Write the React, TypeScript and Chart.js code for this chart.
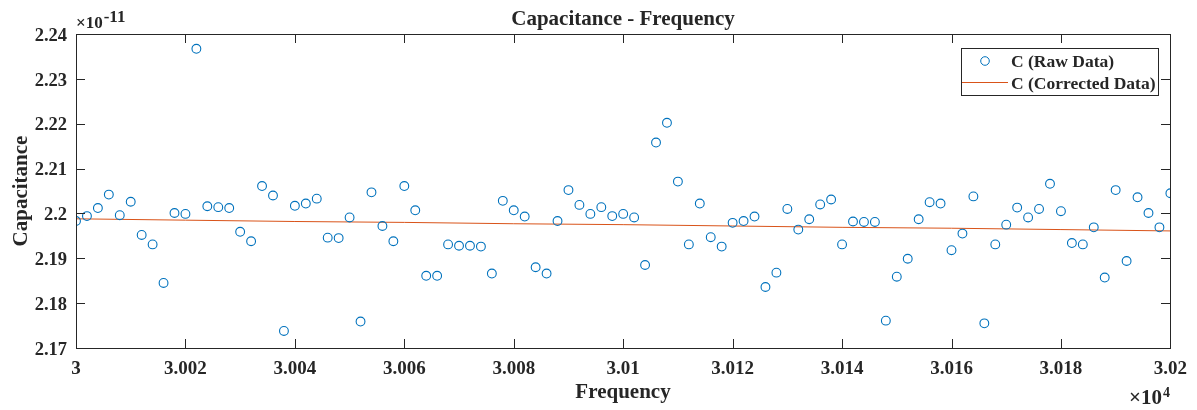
import { useEffect, useRef } from "react";
import { Chart, registerables } from "chart.js";

Chart.register(...registerables);

// Frequency sweep: start and step in Hz (one raw sample every 2 Hz)
const FREQ_START = 30000;
const FREQ_STEP = 2;

// Raw capacitance readings, in units of 1e-11 F
const rawCapacitance = [
  2.1983, 2.1994, 2.2012, 2.2042, 2.1996, 2.2026, 2.1952, 2.1931, 2.1845, 2.2001,
  2.1999, 2.2367, 2.2016, 2.2014, 2.2012, 2.1959, 2.1938, 2.2061, 2.204, 2.1738,
  2.2017, 2.2022, 2.2033, 2.1946, 2.1945, 2.1991, 2.1759, 2.2047, 2.1972, 2.1938,
  2.2061, 2.2007, 2.1861, 2.1861, 2.1931, 2.1928, 2.1928, 2.1926, 2.1866, 2.2028,
  2.2007, 2.1993, 2.188, 2.1866, 2.1983, 2.2052, 2.2019, 2.1999, 2.2014, 2.1994,
  2.1999, 2.1991, 2.1885, 2.2158, 2.2202, 2.2071, 2.1931, 2.2022, 2.1947, 2.1926,
  2.1979, 2.1983, 2.1993, 2.1836, 2.1868, 2.201, 2.1964, 2.1987, 2.202, 2.2031,
  2.1931, 2.1982, 2.1981, 2.1981, 2.1761, 2.1859, 2.1899, 2.1987, 2.2025, 2.2022,
  2.1918, 2.1955, 2.2038, 2.1755, 2.1931, 2.1975, 2.2013, 2.1991, 2.201, 2.2066,
  2.2005, 2.1934, 2.1931, 2.1969, 2.1857, 2.2052, 2.1894, 2.2036, 2.2001, 2.1969,
  2.2045,
];

// Corrected capacitance, read at each major tick
const correctedFrequency = [30000, 30020, 30040, 30060, 30080, 30100, 30120, 30140, 30160, 30180, 30200];
const correctedCapacitance = [2.1988, 2.1985, 2.1982, 2.198, 2.1977, 2.1975, 2.1972, 2.1969, 2.1967, 2.1964, 2.1961];

const xTickValues = [30000, 30020, 30040, 30060, 30080, 30100, 30120, 30140, 30160, 30180, 30200];
const yTickValues = [2.17, 2.18, 2.19, 2.2, 2.21, 2.22, 2.23, 2.24];

const titleText = "Capacitance - Frequency";
const xTitle = "Frequency";
const yTitle = "Capacitance";
const legendLabels = ["C (Raw Data)", "C (Corrected Data)"];

const SERIF = '"Liberation Serif", "Times New Roman", serif';
const AXIS_COLOR = "#262626";
const RAW_COLOR = "#0072BD";
const FIT_COLOR = "#D95319";

const fmt = (v: number) => String(parseFloat(v.toFixed(4)));

const decorPlugin = {
  id: "matlabDecor",
  afterDraw(chart: any) {
    const ctx = chart.ctx;
    const xs = chart.scales.x;
    const ys = chart.scales.y;
    const left = Math.round(xs.left);
    const right = Math.round(xs.right);
    const top = Math.round(ys.top);
    const bottom = Math.round(ys.bottom);
    ctx.save();
    ctx.setLineDash([]);
    ctx.globalAlpha = 1;
    ctx.fillStyle = AXIS_COLOR;
    // box
    ctx.fillRect(left, top, right - left + 1, 1);
    ctx.fillRect(left, bottom, right - left + 1, 1);
    ctx.fillRect(left, top, 1, bottom - top + 1);
    ctx.fillRect(right, top, 1, bottom - top + 1);
    // inside ticks
    const TL = 9;
    xTickValues.forEach((v) => {
      const px = Math.round(xs.getPixelForValue(v));
      ctx.fillRect(px, bottom - TL, 1, TL);
      ctx.fillRect(px, top, 1, TL);
    });
    yTickValues.forEach((v) => {
      const py = Math.round(ys.getPixelForValue(v));
      ctx.fillRect(left, py, TL, 1);
      ctx.fillRect(right - TL, py, TL, 1);
    });

    // title
    ctx.font = `bold 21px ${SERIF}`;
    ctx.textAlign = "center";
    ctx.textBaseline = "alphabetic";
    ctx.fillText(titleText, (left + right) / 2, 25);
    // x title
    ctx.fillText(xTitle, (left + right) / 2, 398);
    // y title
    ctx.save();
    ctx.translate(27, (top + bottom) / 2);
    ctx.rotate(-Math.PI / 2);
    ctx.fillText(yTitle, 0, 0);
    ctx.restore();

    // exponent labels
    ctx.textAlign = "left";
    ctx.font = `bold 17px ${SERIF}`;
    ctx.fillText("\u00d710", 76, 28);
    let w = ctx.measureText("\u00d710").width;
    ctx.font = `bold 17px ${SERIF}`;
    ctx.fillText("-11", 76 + w + 1, 22);

    ctx.font = `bold 21px ${SERIF}`;
    ctx.fillText("\u00d710", 1129, 404);
    w = ctx.measureText("\u00d710").width;
    ctx.font = `bold 14px ${SERIF}`;
    ctx.fillText("4", 1129 + w + 1, 397);

    // legend
    const lx = 961, ly = 48, lw = 197, lh = 47;
    ctx.fillStyle = "#ffffff";
    ctx.fillRect(lx, ly, lw, lh);
    ctx.fillStyle = AXIS_COLOR;
    ctx.fillRect(lx, ly, lw + 1, 1);
    ctx.fillRect(lx, ly + lh, lw + 1, 1);
    ctx.fillRect(lx, ly, 1, lh + 1);
    ctx.fillRect(lx + lw, ly, 1, lh + 1);
    ctx.lineWidth = 1;
    ctx.strokeStyle = RAW_COLOR;
    ctx.beginPath();
    ctx.arc(985, 61, 4.3, 0, Math.PI * 2);
    ctx.stroke();
    ctx.fillStyle = FIT_COLOR;
    ctx.fillRect(962, 82, 46, 1);
    ctx.fillStyle = AXIS_COLOR;
    ctx.font = `bold 17.5px ${SERIF}`;
    ctx.fillText(legendLabels[0], 1011, 67);
    ctx.fillText(legendLabels[1], 1011, 88.5);
    ctx.restore();
  },
};

export default function App() {
  const ref = useRef<HTMLCanvasElement | null>(null);
  useEffect(() => {
    document.body.style.margin = "0";
    const canvas = ref.current;
    if (!canvas) return;
    const rawPoints = rawCapacitance.map((c, i) => ({ x: FREQ_START + FREQ_STEP * i, y: c }));
    const fitPoints = correctedCapacitance.map((c, i) => ({ x: correctedFrequency[i], y: c }));
    const chart = new Chart(canvas, {
      type: "line",
      data: {
        datasets: [
          {
            label: legendLabels[0],
            data: rawPoints,
            showLine: false,
            pointStyle: "circle",
            pointRadius: 4.4,
            pointBorderWidth: 1.1,
            pointBorderColor: RAW_COLOR,
            pointBackgroundColor: "rgba(0,0,0,0)",
            borderColor: RAW_COLOR,
          },
          {
            label: legendLabels[1],
            data: fitPoints,
            borderColor: FIT_COLOR,
            borderWidth: 1,
            pointRadius: 0,
            tension: 0,
            fill: false,
          },
        ],
      },
      options: {
        animation: false,
        responsive: false,
        maintainAspectRatio: false,
        devicePixelRatio: 1,
        layout: { padding: { left: 0, right: 25, top: 34, bottom: 0 } },
        plugins: {
          legend: { display: false },
          title: { display: false },
          tooltip: { enabled: false },
        },
        scales: {
          x: {
            type: "linear",
            min: 30000,
            max: 30200,
            afterFit: (s: any) => {
              s.height = 62;
            },
            grid: { display: false, drawTicks: false },
            border: { display: false },
            afterBuildTicks: (s: any) => {
              s.ticks = xTickValues.map((v) => ({ value: v }));
            },
            ticks: {
              padding: 10,
              color: AXIS_COLOR,
              maxRotation: 0,
              autoSkip: false,
              font: { family: SERIF, size: 19, weight: "bold" },
              callback: (v: any) => fmt(Number(v) / 1e4),
            },
          },
          y: {
            type: "linear",
            min: 2.17,
            max: 2.24,
            afterFit: (s: any) => {
              s.width = 76;
            },
            grid: { display: false, drawTicks: false },
            border: { display: false },
            afterBuildTicks: (s: any) => {
              s.ticks = yTickValues.map((v) => ({ value: v }));
            },
            ticks: {
              padding: 9,
              labelOffset: 2,
              color: AXIS_COLOR,
              autoSkip: false,
              font: { family: SERIF, size: 18.5, weight: "bold" },
              callback: (v: any) => fmt(Number(v)),
            },
          },
        },
      },
      plugins: [decorPlugin],
    } as any);
    return () => chart.destroy();
  }, []);
  return (
    <div style={{ width: 1197, height: 410, background: "#ffffff" }}>
      <canvas ref={ref} width={1197} height={410} style={{ display: "block", width: 1197, height: 410 }} />
    </div>
  );
}
